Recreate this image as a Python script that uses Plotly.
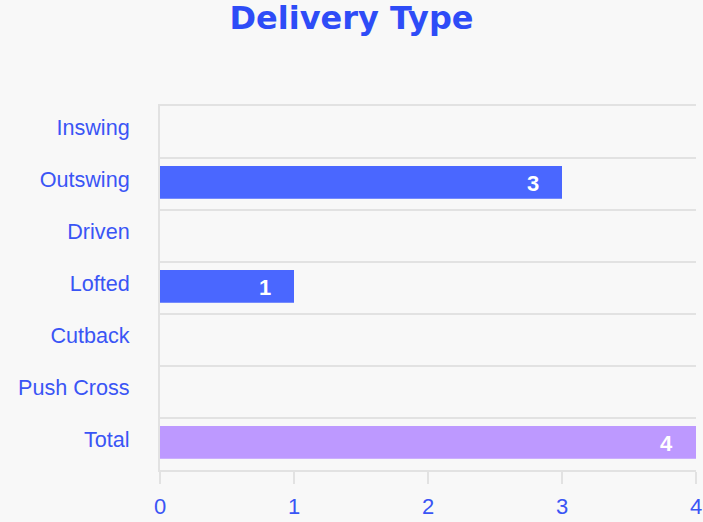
import plotly.graph_objects as go

categories = ["Inswing", "Outswing", "Driven", "Lofted", "Cutback", "Push Cross", "Total"]
values = [0, 3, 0, 1, 0, 0, 4]
text_labels = ["", "3", "", "1", "", "", "4"]
bar_colors = ["#4a67ff"] * 6 + ["#bd99ff"]
x_ticks = [0, 1, 2, 3, 4]

blue_text = "#3a55f5"
grid = "#e2e2e2"

fig = go.Figure(
    go.Bar(
        x=values,
        y=categories,
        orientation="h",
        marker=dict(color=bar_colors, line=dict(width=0)),
        width=0.63,
        offset=-0.345,
        hoverinfo="skip",
    )
)

for cat, v, t in zip(categories, values, text_labels):
    if t:
        fig.add_annotation(
            x=v, y=cat, text=t, showarrow=False,
            xanchor="right", yanchor="middle", xshift=-21, yshift=1,
            font=dict(family="Liberation Sans, Arial, sans-serif", size=22, color="white", weight="bold"),
        )

fig.update_layout(
    width=703,
    height=522,
    paper_bgcolor="#f8f8f8",
    plot_bgcolor="#f8f8f8",
    margin=dict(l=160, r=7, t=106, b=52, autoexpand=False),
    showlegend=False,
    title=dict(
        text="<b>Delivery Type</b>",
        x=0.5,
        xanchor="center",
        y=0.966,
        yanchor="middle",
        font=dict(family="DejaVu Sans, sans-serif", size=32, color="#2e4cf7"),
    ),
    xaxis=dict(
        range=[0, 4],
        tickvals=x_ticks,
        showgrid=False,
        zeroline=False,
        showline=True,
        mirror=True,
        linecolor=grid,
        linewidth=2,
        ticks="outside",
        ticklen=12,
        tickwidth=2,
        tickcolor=grid,
        ticklabelstandoff=4,
        automargin=False,
        tickfont=dict(family="Liberation Sans, Arial, sans-serif", size=22, color=blue_text),
        fixedrange=True,
    ),
    yaxis=dict(
        type="category",
        categoryorder="array",
        categoryarray=categories,
        autorange="reversed",
        tickson="boundaries",
        showgrid=True,
        gridcolor=grid,
        gridwidth=2,
        showline=True,
        linecolor=grid,
        linewidth=2,
        ticks="",
        ticklabelstandoff=24,
        ticklabelshift=5,
        automargin=False,
        tickfont=dict(family="Liberation Sans, Arial, sans-serif", size=21.6, color=blue_text),
        fixedrange=True,
    ),
)

fig.write_html(
    "out.html",
    config={"displayModeBar": False, "staticPlot": True},
    post_script=(
        "document.documentElement.style.margin='0';"
        "document.documentElement.style.overflow='hidden';"
        "document.body.style.margin='0';"
        "document.body.style.overflow='hidden';"
        "document.body.style.background='#f8f8f8';"
    ),
)
